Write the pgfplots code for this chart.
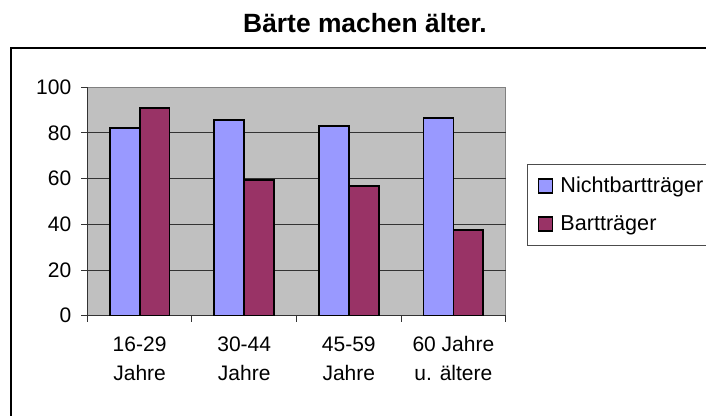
\documentclass[border=0pt]{standalone}
\usepackage{fontspec}
\setmainfont{Liberation Sans}
\usepackage{pgfplots}
\pgfplotsset{compat=1.18}
\definecolor{nbt}{HTML}{9999FF}
\definecolor{bt}{HTML}{993366}
\definecolor{plotbg}{HTML}{C0C0C0}

\begin{document}
\begin{tikzpicture}
\useasboundingbox (0,0) rectangle (353pt,208pt);
% outer chart frame (runs off right and bottom edge)
\draw[line width=1pt] (5.5pt,-5pt) -- (5.5pt,184pt) -- (360pt,184pt);
\node[anchor=base, font=\bfseries\fontsize{13.2}{16}\selectfont] at (182.5pt,191.6pt) {Bärte machen älter.};
\begin{axis}[
    at={(43.65pt,50.15pt)}, anchor=south west,
    scale only axis, width=209.2pt, height=114.2pt,
    ybar=0pt, bar width=0.285,
    xmin=-0.5, xmax=3.5, ymin=0, ymax=100,
    axis background/.style={fill=plotbg, draw=gray},
    axis x line*=bottom, axis y line*=left,
    axis line style={black!80, line width=0.5pt},
    tick align=outside, major tick length=3pt,
    tick style={black!80, line width=0.5pt},
    ytick={0,20,...,80},
    extra y ticks={100}, extra y tick style={grid=none},
    yticklabel style={xshift=-1.5pt},
    ymajorgrids, major grid style={black!80, line width=0.5pt},
    xtick={-0.5,0.5,...,3.5}, xticklabels={},
    extra x ticks={0,1,2,3},
    extra x tick labels={16-29\\Jahre, 30-44\\Jahre, 45-59\\Jahre, 60 Jahre\\u. ältere},
    extra x tick style={major tick length=0pt,
        xticklabel style={align=center, yshift=-7pt, font=\fontsize{10.5}{14.5}\selectfont}},
    /pgf/number format/assume math mode=true,
    ticklabel style={font=\fontsize{10.5}{14.5}\selectfont},
    legend style={at={(1.051,0.664)}, anchor=north west,
        draw=gray!60!black, line width=0.5pt, minimum width=95pt,
        nodes={minimum width=0pt},
        font=\fontsize{10.8}{13}\selectfont, row sep=6pt,
        inner xsep=-1pt, inner ysep=4pt},
    legend cell align=left,
    legend image code/.code={\draw[#1, line width=0.7pt] (0pt,-3.5pt) rectangle (7pt,3.5pt); \path (8.5pt,0pt);},
]
\addplot[fill=nbt, draw=black, line width=0.9pt] coordinates {(0,82.3) (1,85.7) (2,83.2) (3,86.6)};
\addplot[fill=bt, draw=black, line width=0.9pt] coordinates {(0,90.9) (1,59.4) (2,56.8) (3,37.5)};
\legend{Nichtbartträger, Bartträger}
\end{axis}
\end{tikzpicture}
\end{document}
